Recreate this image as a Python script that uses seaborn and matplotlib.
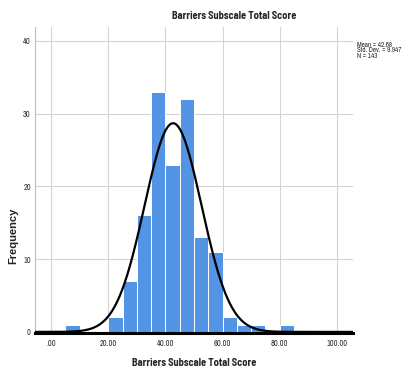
import numpy as np
import pandas as pd
import matplotlib
matplotlib.use("Agg")
import matplotlib.pyplot as plt
import seaborn as sns

# Binned frequencies (bin width 5)
bin_left = [5, 20, 25, 30, 35, 40, 45, 50, 55, 60, 65, 70, 80]
counts = [1, 2, 7, 16, 33, 23, 32, 13, 11, 2, 1, 1, 1]
bin_width = 5

# Summary statistics
mean_val = 42.68
sd_val = 9.947
n_val = 143

x_ticks = [0, 20, 40, 60, 80, 100]
x_tick_labels = [".00", "20.00", "40.00", "60.00", "80.00", "100.00"]
y_ticks = [0, 10, 20, 30, 40]

title = "Barriers Subscale Total Score"
x_label = "Barriers Subscale Total Score"
y_label = "Frequency"

sns.set_style("white")
narrow = ["Archivo Narrow", "Barlow Semi Condensed", "DejaVu Sans"]
narrow_bold = ["Barlow Semi Condensed", "Archivo Narrow", "DejaVu Sans"]
plt.rcParams["font.family"] = ["Liberation Sans", "DejaVu Sans"]

W, H = 404, 376
fig = plt.figure(figsize=(W / 100, H / 100), dpi=100)
ax = fig.add_axes([35 / W, 1 - 333 / H, (353 - 35) / W, (333 - 27) / H])

df = pd.DataFrame({"score": [b + bin_width / 2 for b in bin_left], "n": counts})
sns.histplot(data=df, x="score", weights="n", binwidth=bin_width, binrange=(0, 100),
             color="#5394e4", alpha=1.0, edgecolor="white", linewidth=0.7, ax=ax, zorder=2)

xlim = (-5.6, 105.6)
xs = np.linspace(xlim[0], xlim[1], 600)
ys = n_val * bin_width / (sd_val * np.sqrt(2 * np.pi)) * np.exp(-0.5 * ((xs - mean_val) / sd_val) ** 2)
sns.lineplot(x=xs, y=ys, color="black", linewidth=1.6, ax=ax, zorder=3)

ax.set_xlim(*xlim)
ax.set_ylim(-0.15, 41.9)
ax.set_xticks(x_ticks)
ax.set_xticklabels(x_tick_labels, family=narrow, fontsize=6, color="#333333")
ax.set_yticks(y_ticks)
ax.set_yticklabels([str(v) for v in y_ticks], family=narrow, fontsize=6, color="#333333")
ax.tick_params(axis="x", length=0, pad=4)
ax.tick_params(axis="y", length=0, pad=3)
ax.grid(True, color="#d4d4d4", linewidth=0.8, zorder=0)
ax.set_axisbelow(True)
for s in ["top", "right"]:
    ax.spines[s].set_visible(False)
ax.spines["left"].set_color("#bdbdbd")
ax.spines["left"].set_linewidth(0.8)
ax.spines["bottom"].set_color("black")
ax.spines["bottom"].set_linewidth(2.2)
ax.set_xlabel("")
ax.set_ylabel("")

fig.text(194 / W, 1 - 363 / H, x_label, family=narrow_bold, fontsize=7.5,
         fontweight="bold", ha="center", va="center")
fig.text(13 / W, 1 - 236 / H, y_label, fontsize=8, fontweight="bold",
         rotation=90, ha="center", va="center")
fig.text(234 / W, 1 - 16 / H, title, family=narrow_bold, fontsize=7.5,
         fontweight="bold", ha="center", va="center")
stats = [f"Mean = {mean_val}", f"Std. Dev. = {sd_val}", f"N = {n_val}"]
for i, s in enumerate(stats):
    fig.text(357 / W, 1 - (45 + 5.5 * i) / H, s, family=narrow, fontsize=5,
             ha="left", va="center")

fig.savefig("out.png", dpi=100)
